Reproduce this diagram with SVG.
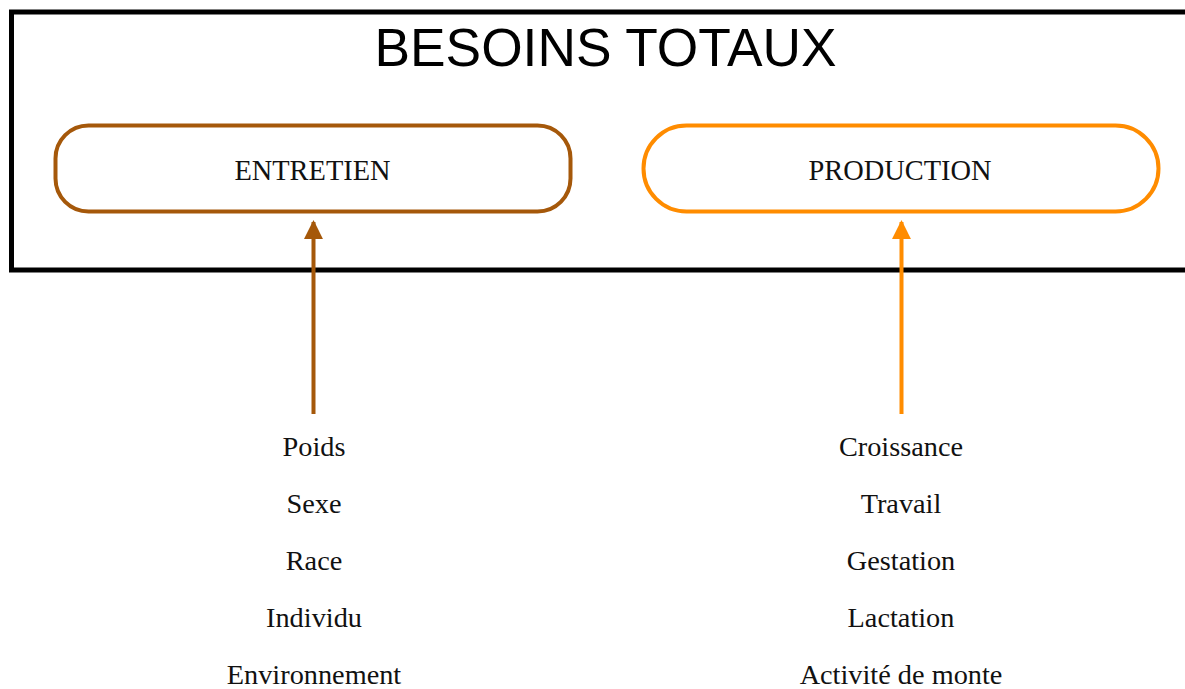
<svg xmlns="http://www.w3.org/2000/svg" width="1185" height="689" viewBox="0 0 1185 689">
<style>
.title{font-family:"Liberation Sans",Arial,sans-serif;font-size:53.3px;fill:#000;text-anchor:middle}
.box{font-family:"Liberation Serif","Times New Roman",serif;font-size:28.4px;fill:#111;text-anchor:middle}
.lbl{font-family:"Liberation Serif","Times New Roman",serif;font-size:28.3px;fill:#111;text-anchor:middle}
.node{fill:#fff;stroke-width:4}
</style>
<defs>
<marker id="ahB" viewBox="0 0 10 10" refX="9" refY="5" markerWidth="4.8" markerHeight="4.8" orient="auto" markerUnits="strokeWidth"><path d="M0,0 L10,5 L0,10 z" fill="#a5580a"/></marker>
<marker id="ahO" viewBox="0 0 10 10" refX="9" refY="5" markerWidth="4.8" markerHeight="4.8" orient="auto" markerUnits="strokeWidth"><path d="M0,0 L10,5 L0,10 z" fill="#ff8c00"/></marker>
</defs>
<rect width="1185" height="689" fill="#fff"/>
<g id="besoins-totaux">
<rect x="11.5" y="12" width="1200" height="258" fill="none" stroke="#000" stroke-width="5"/>
<text class="title" x="605.5" y="66">BESOINS TOTAUX</text>
</g>
<g id="entretien">
<rect class="node" x="55.5" y="125.5" width="515" height="86" rx="33" stroke="#a5580a"/>
<text class="box" x="312.5" y="180">ENTRETIEN</text>
</g>
<g id="production">
<rect class="node" x="643.5" y="125.5" width="515" height="86" rx="43" stroke="#ff8c00"/>
<text class="box" x="900" y="180">PRODUCTION</text>
</g>
<g id="connectors">
<line x1="313.5" y1="414" x2="313.5" y2="222" stroke="#a5580a" stroke-width="4" marker-end="url(#ahB)"/>
<line x1="901.5" y1="414" x2="901.5" y2="222" stroke="#ff8c00" stroke-width="4" marker-end="url(#ahO)"/>
</g>
<g id="entretien-factors">
<text class="lbl" x="314" y="456">Poids</text>
<text class="lbl" x="314" y="513">Sexe</text>
<text class="lbl" x="314" y="570">Race</text>
<text class="lbl" x="314" y="627">Individu</text>
<text class="lbl" x="314" y="684">Environnement</text>
</g>
<g id="production-factors">
<text class="lbl" x="901" y="456">Croissance</text>
<text class="lbl" x="901" y="513">Travail</text>
<text class="lbl" x="901" y="570">Gestation</text>
<text class="lbl" x="901" y="627">Lactation</text>
<text class="lbl" x="901" y="684">Activité de monte</text>
</g>
</svg>
